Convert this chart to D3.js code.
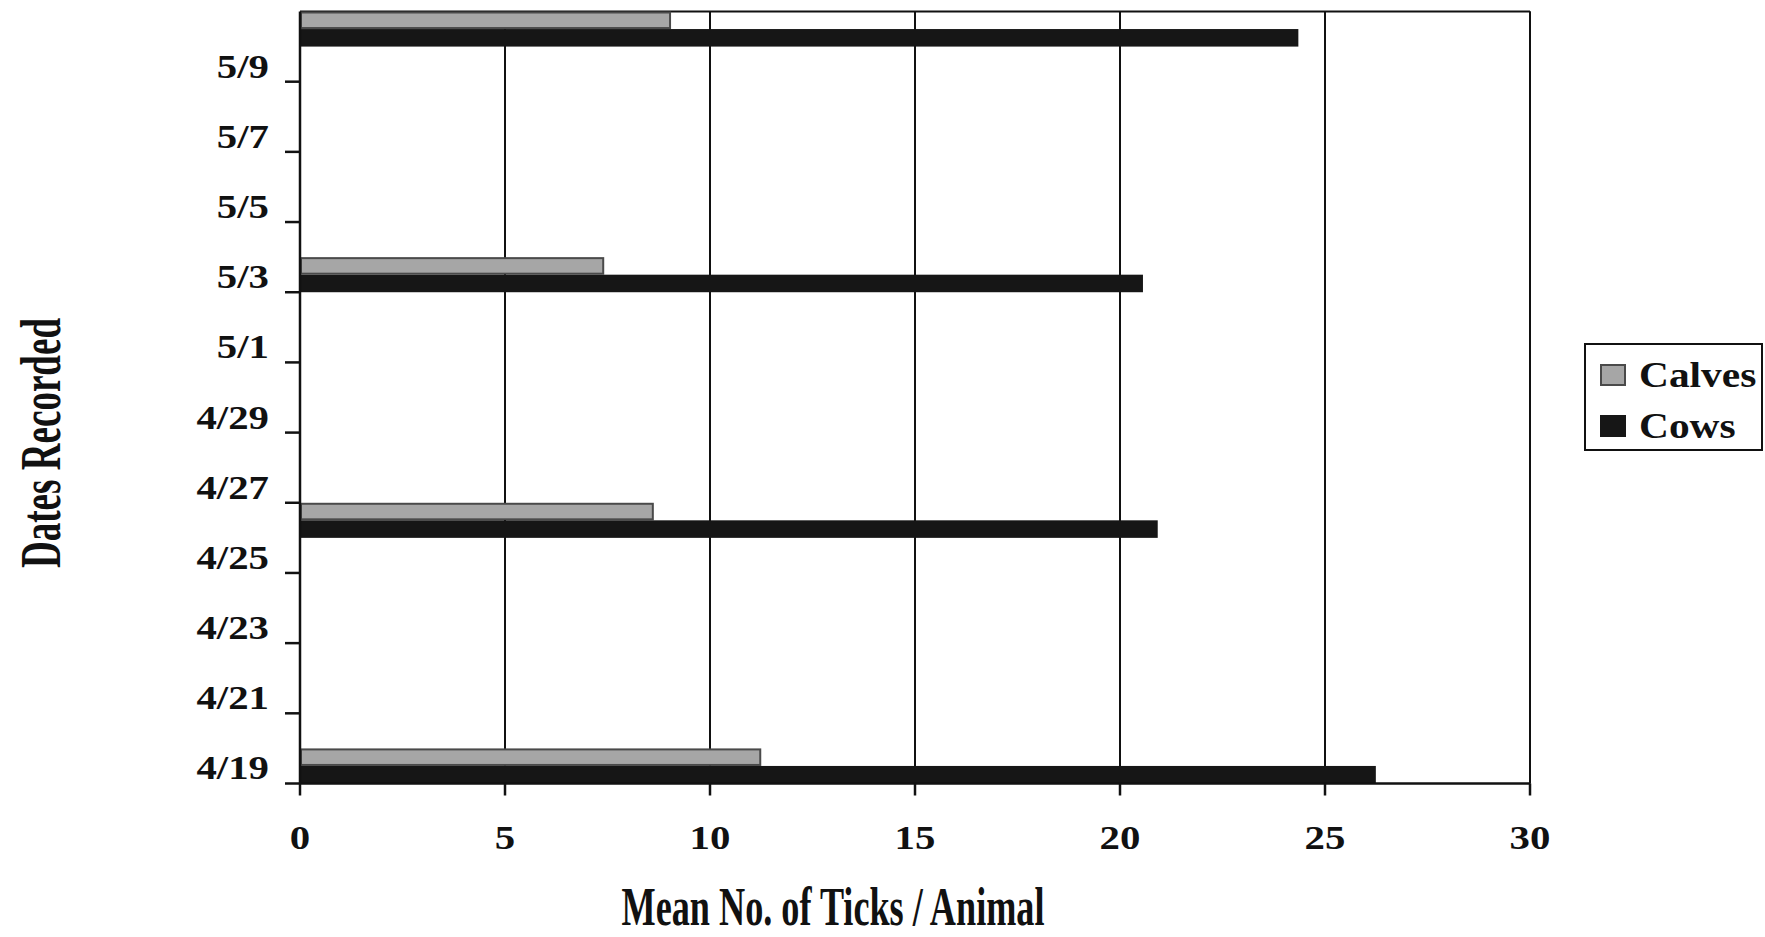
<!DOCTYPE html>
<html>
<head>
<meta charset="utf-8">
<script src="https://cdn.jsdelivr.net/npm/d3@7/dist/d3.min.js"></script>
<style>
  html, body { margin: 0; padding: 0; background: #fff; }
  svg { display: block; }
  text { font-family: "Liberation Serif", "Times New Roman", serif; font-weight: bold; fill: #111; }
</style>
</head>
<body>
<svg id="chart" width="1765" height="937"></svg>
<script>
// Sampling dates and mean tick counts per animal
const sampleDates = ["4/19", "4/26", "5/3", "5/10"];
const calves = [11.25, 8.63, 7.42, 9.05];
const cows = [26.24, 20.92, 20.56, 24.35];

// Axis labels
const dateTicks = ["4/19", "4/21", "4/23", "4/25", "4/27", "4/29", "5/1", "5/3", "5/5", "5/7", "5/9"];
const dateRange = ["4/19", "5/11"];
const countTicks = [0, 5, 10, 15, 20, 25, 30];
const seriesNames = ["Calves", "Cows"];

const parse = d3.timeParse("%m/%d");
const svg = d3.select("#chart");

const m = { left: 300, right: 1530, top: 11.5, bottom: 783.5 };

const x = d3.scaleLinear().domain([countTicks[0], countTicks[countTicks.length - 1]]).range([m.left, m.right]);
const y = d3.scaleTime().domain(dateRange.map(parse)).range([m.bottom, m.top]);

const ink = "#111";
const calfFill = "#a6a6a6", calfEdge = "#4a4a4a", cowFill = "#161616";

// horizontally stretched text helper
function label(g, str, px, py, size, sx, anchor) {
  return g.append("text")
    .attr("transform", `translate(${px},${py}) scale(${sx},1)`)
    .attr("text-anchor", anchor)
    .style("font-size", size + "px")
    .text(str);
}

// vertical gridlines
svg.append("g").selectAll("line")
  .data(countTicks.slice(1))
  .join("line")
  .attr("x1", d => x(d)).attr("x2", d => x(d))
  .attr("y1", m.top).attr("y2", m.bottom)
  .attr("stroke", ink).attr("stroke-width", 2);

// top border
svg.append("line")
  .attr("x1", m.left).attr("x2", m.right)
  .attr("y1", m.top).attr("y2", m.top)
  .attr("stroke", ink).attr("stroke-width", 2);

// bars: each sampling day occupies one day band, calves above cows
const bars = svg.append("g");
sampleDates.forEach((ds, i) => {
  const d0 = parse(ds);
  const yBottom = y(d0);
  const yTop = y(d3.timeDay.offset(d0, 1));
  const mid = (yTop + yBottom) / 2;
  bars.append("rect")
    .attr("x", x(0) + 1).attr("y", yTop + 1)
    .attr("width", x(calves[i]) - x(0) - 2).attr("height", mid - yTop - 2)
    .attr("fill", calfFill).attr("stroke", calfEdge).attr("stroke-width", 2);
  bars.append("rect")
    .attr("x", x(0)).attr("y", mid)
    .attr("width", x(cows[i]) - x(0)).attr("height", yBottom - mid)
    .attr("fill", cowFill);
});

// y axis
const yAxis = svg.append("g");
yAxis.append("line")
  .attr("x1", m.left).attr("x2", m.left)
  .attr("y1", m.top).attr("y2", m.bottom)
  .attr("stroke", ink).attr("stroke-width", 2.5);
dateTicks.forEach(ds => {
  const d0 = parse(ds);
  const ty = y(d0);
  yAxis.append("line")
    .attr("x1", m.left - 15).attr("x2", m.left)
    .attr("y1", ty).attr("y2", ty)
    .attr("stroke", ink).attr("stroke-width", 2.5);
  const cy = (ty + y(d3.timeDay.offset(d0, 1))) / 2;
  label(yAxis, ds, m.left - 31, cy + 13.5, 34, 1.2, "end");
});

// x axis
const xAxis = svg.append("g");
xAxis.append("line")
  .attr("x1", m.left).attr("x2", m.right)
  .attr("y1", m.bottom).attr("y2", m.bottom)
  .attr("stroke", ink).attr("stroke-width", 2.5);
countTicks.forEach(v => {
  xAxis.append("line")
    .attr("x1", x(v)).attr("x2", x(v))
    .attr("y1", m.bottom).attr("y2", m.bottom + 12)
    .attr("stroke", ink).attr("stroke-width", 2.5);
  label(xAxis, String(v), x(v), 848.5, 34, 1.2, "middle");
});
// right border
svg.append("line")
  .attr("x1", m.right).attr("x2", m.right)
  .attr("y1", m.top).attr("y2", m.bottom)
  .attr("stroke", ink).attr("stroke-width", 2);

// axis titles (condensed face)
svg.append("text")
  .attr("x", 833).attr("y", 925)
  .attr("text-anchor", "middle")
  .attr("textLength", 423).attr("lengthAdjust", "spacingAndGlyphs")
  .style("font-size", "54px")
  .text("Mean No. of Ticks / Animal");

svg.append("text")
  .attr("transform", "translate(60,443) rotate(-90)")
  .attr("text-anchor", "middle")
  .attr("textLength", 250).attr("lengthAdjust", "spacingAndGlyphs")
  .style("font-size", "58px")
  .text("Dates Recorded");

// legend
const lg = svg.append("g");
lg.append("rect")
  .attr("x", 1585).attr("y", 344).attr("width", 177).attr("height", 106)
  .attr("fill", "#fff").attr("stroke", ink).attr("stroke-width", 2);
const swatches = [
  { fill: calfFill, stroke: calfEdge, y: 365 },
  { fill: cowFill, stroke: cowFill, y: 416 }
];
seriesNames.forEach((name, i) => {
  lg.append("rect")
    .attr("x", 1601).attr("y", swatches[i].y).attr("width", 24).attr("height", 20)
    .attr("fill", swatches[i].fill).attr("stroke", swatches[i].stroke).attr("stroke-width", 2);
  label(lg, name, 1639, swatches[i].y + 22, 36, 1.15, "start");
});
</script>
</body>
</html>
